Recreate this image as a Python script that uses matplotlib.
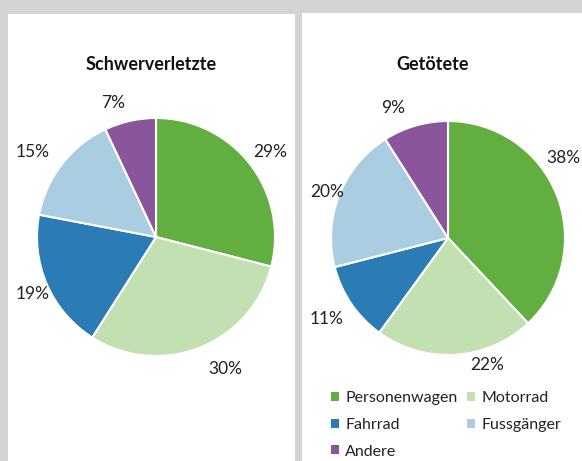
import matplotlib.pyplot as plt
from matplotlib.patches import Rectangle, Patch

plt.rcParams['font.family'] = ['Lato', 'DejaVu Sans']

categories = ["Personenwagen", "Motorrad", "Fahrrad", "Fussgänger", "Andere"]
colors = ["#62ae41", "#c3e0b3", "#2b7bb4", "#abcde2", "#8b559b"]
schwer = [29, 30, 19, 15, 7]
getoetet = [38, 22, 11, 20, 9]

# where the percentage labels sit (pixel centres)
schwer_label_px = [(270, 152), (225, 369), (33, 294), (33, 152), (113, 103)]
getoetet_label_px = [(563, 158), (487, 365), (327, 319), (327, 192), (393, 108)]

W, H = 582, 461
fig = plt.figure(figsize=(W / 100, H / 100), dpi=100, facecolor="#d4d4d4")


def px_rect(x0, y0, x1, y1):
    # pixel box (top-left origin) -> figure fraction rectangle
    return [x0 / W, 1 - y1 / H, (x1 - x0) / W, (y1 - y0) / H]


# white panels on grey background
for x0, y0, x1, y1 in [(8, 14, 295, 461), (302, 13, 582, 461)]:
    l, b, w, h = px_rect(x0, y0, x1, y1)
    fig.add_artist(Rectangle((l, b), w, h, transform=fig.transFigure,
                             facecolor="white", edgecolor="none", zorder=0))


def draw_pie(cx, cy, r, values, label_px, title, title_x):
    half = r * 1.5
    ax = fig.add_axes(px_rect(cx - half, cy - half, cx + half, cy + half))
    wedges, texts, autotexts = ax.pie(
        values, colors=colors, startangle=90, counterclock=False,
        radius=1, autopct=lambda p: f"{p:.0f}%", pctdistance=1.19,
        wedgeprops=dict(edgecolor="white", linewidth=1.5))
    # pie resets the limits, so set them afterwards
    ax.set_xlim(-1.5, 1.5)
    ax.set_ylim(-1.5, 1.5)
    ax.set_aspect("equal")
    ax.axis("off")
    for t, (px, py) in zip(autotexts, label_px):
        t.set_position(((px - cx) / r, (cy - py) / r))
        t.set_fontsize(12.5)
        t.set_color("#222222")
        t.set_clip_on(False)
    fig.text(title_x / W, 1 - 64 / H, title, ha="center", va="center",
             fontsize=13, fontweight="bold", color="#111111")
    return ax


draw_pie(156, 237, 119, schwer, schwer_label_px, "Schwerverletzte", 151)
draw_pie(448, 238, 117, getoetet, getoetet_label_px, "Getötete", 433)

# legend filled row-wise: matplotlib fills columns, so reorder
order = [0, 2, 4, 1, 3]
handles = [Patch(facecolor=colors[i], edgecolor="none", label=categories[i])
           for i in order]
fig.legend(handles=handles, ncol=2, loc="upper left",
           bbox_to_anchor=(331 / W, 1 - 391 / H), frameon=False,
           fontsize=11.5, handlelength=0.5, handleheight=0.5,
           handletextpad=0.4, columnspacing=0.6, labelspacing=0.8,
           borderpad=0, borderaxespad=0, labelcolor="#222222")

fig.savefig("out.png", dpi=100, facecolor=fig.get_facecolor())
